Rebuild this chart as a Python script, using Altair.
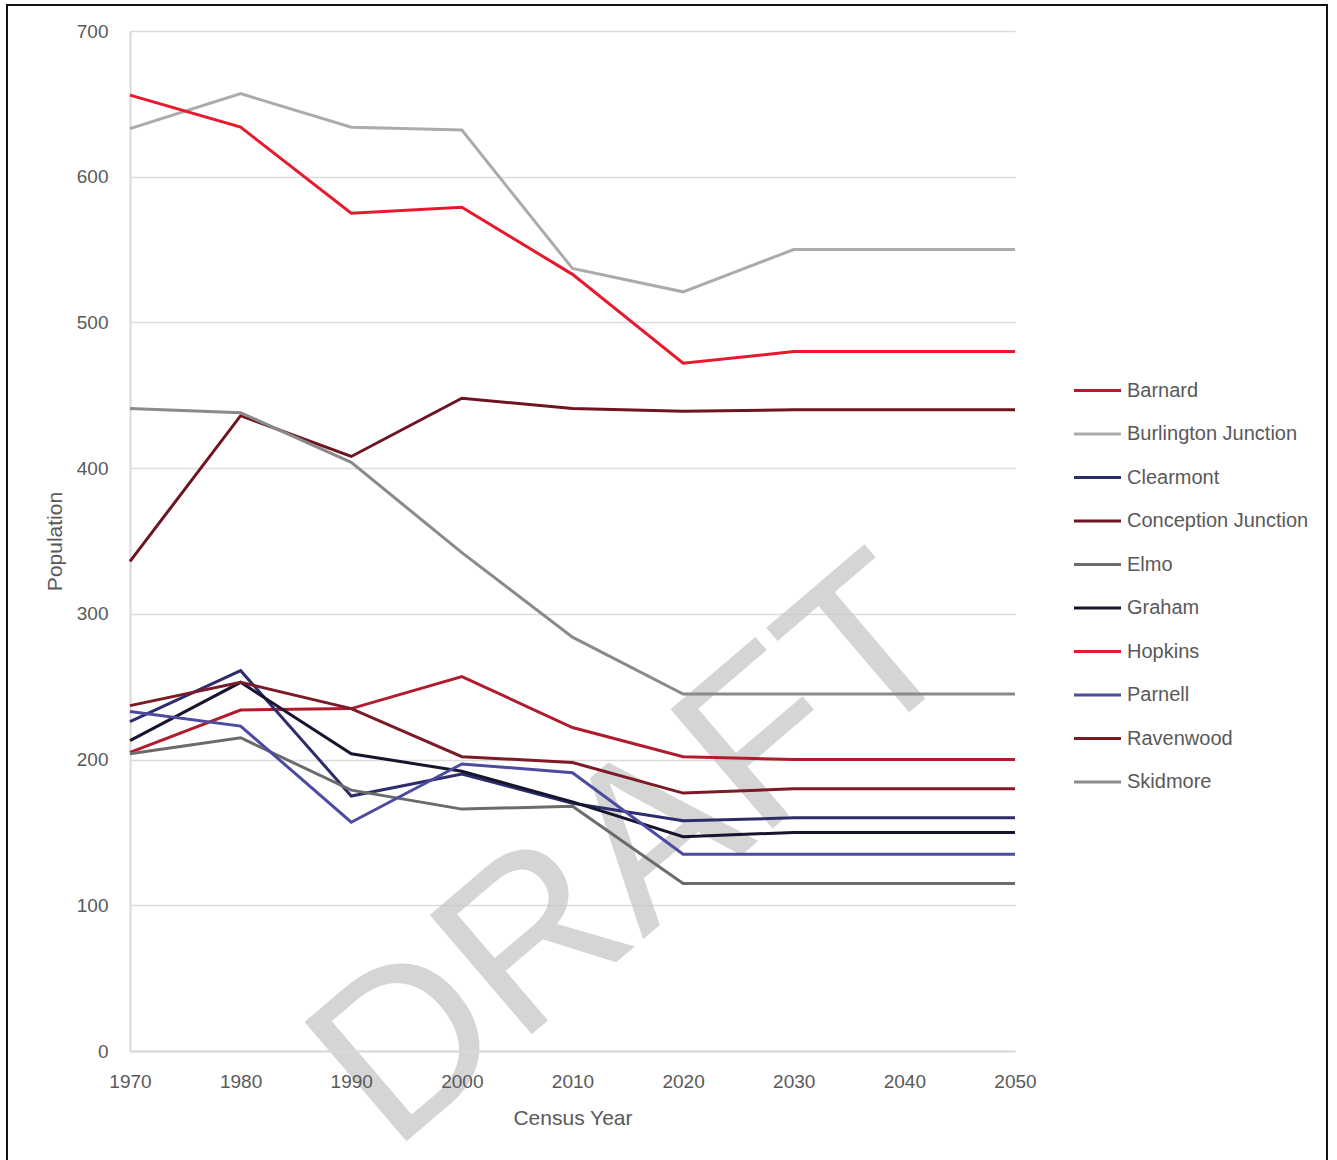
import altair as alt
import pandas as pd

years = [1970, 1980, 1990, 2000, 2010, 2020, 2030, 2040, 2050]
towns = ["Barnard", "Burlington Junction", "Clearmont", "Conception Junction", "Elmo",
         "Graham", "Hopkins", "Parnell", "Ravenwood", "Skidmore"]
colors = ["#b01c2e", "#ababab", "#2d2d6b", "#6e1420", "#6b6b6b",
          "#15152e", "#e8192c", "#4b4ba0", "#7d1a28", "#8a8a8a"]

barnard = [205, 234, 235, 257, 222, 202, 200, 200, 200]
burlington = [633, 657, 634, 632, 537, 521, 550, 550, 550]
clearmont = [226, 261, 175, 190, 170, 158, 160, 160, 160]
conception = [336, 436, 408, 448, 441, 439, 440, 440, 440]
elmo = [204, 215, 179, 166, 168, 115, 115, 115, 115]
graham = [213, 253, 204, 192, 171, 147, 150, 150, 150]
hopkins = [656, 634, 575, 579, 533, 472, 480, 480, 480]
parnell = [233, 223, 157, 197, 191, 135, 135, 135, 135]
ravenwood = [237, 253, 235, 202, 198, 177, 180, 180, 180]
skidmore = [441, 438, 404, 342, 284, 245, 245, 245, 245]

series = [barnard, burlington, clearmont, conception, elmo,
          graham, hopkins, parnell, ravenwood, skidmore]

rows = []
for t, vals in zip(towns, series):
    for y, v in zip(years, vals):
        rows.append({"Town": t, "Year": y, "Population": v})
df = pd.DataFrame(rows)

FONT = "Liberation Sans, Arial, sans-serif"
TXT = "#595959"

lines = alt.Chart(df).mark_line(strokeWidth=3, clip=False).encode(
    x=alt.X("Year:Q", title="Census Year",
            scale=alt.Scale(domain=[1970, 2050], nice=False, zero=False),
            axis=alt.Axis(values=years, format="d", grid=False, ticks=False,
                          labelFlush=False, zindex=1,
                          domainColor="#d9d9d9", domainWidth=2,
                          labelFontSize=19, labelPadding=21, labelColor=TXT,
                          labelFont=FONT, titleFont=FONT, titleFontSize=21,
                          titleFontWeight="normal", titleColor=TXT, titlePadding=16)),
    y=alt.Y("Population:Q", title="Population",
            scale=alt.Scale(domain=[0, 700], nice=False),
            axis=alt.Axis(values=[0, 100, 200, 300, 400, 500, 600, 700],
                          grid=True, gridColor="#dcdcdc", gridWidth=1.5, ticks=False,
                          domainColor="#d9d9d9", domainWidth=2,
                          labelFontSize=19, labelPadding=22, labelColor=TXT,
                          labelFont=FONT, titleFont=FONT, titleFontSize=21,
                          titleFontWeight="normal", titleColor=TXT, titlePadding=11)),
    color=alt.Color("Town:N", scale=alt.Scale(domain=towns, range=colors),
                    legend=alt.Legend(title=None, orient="none", legendX=954, legendY=346,
                                      symbolType="M-2,0H2", symbolSize=552,
                                      symbolStrokeWidth=3, labelFont=FONT,
                                      labelFontSize=20, labelColor=TXT, labelLimit=0,
                                      labelOffset=16, rowPadding=19.5)),
)

wm = pd.DataFrame({"t": ["DRAFT"]})
watermark = alt.Chart(wm).mark_text(
    fontSize=228, font="Liberation Sans, Arial, sans-serif", angle=319.5,
    color="#c6c6c6", opacity=0.72, align="center", baseline="middle"
).encode(text="t:N", x=alt.value(507), y=alt.value(824))

frame = alt.Chart(wm).mark_rect(fill="transparent", stroke="#111111", strokeWidth=2).encode(
    x=alt.value(-123), x2=alt.value(1197), y=alt.value(-26), y2=alt.value(1150)
)

chart = alt.layer(watermark, lines, frame).properties(
    width=885, height=1020,
    autosize=alt.AutoSizeParams(type="none"),
    padding={"left": 130, "top": 31, "right": 322, "bottom": 109},
    background="white",
).configure_view(stroke=None)

chart.save("out.html", embed_options={"renderer": "svg", "actions": False})
